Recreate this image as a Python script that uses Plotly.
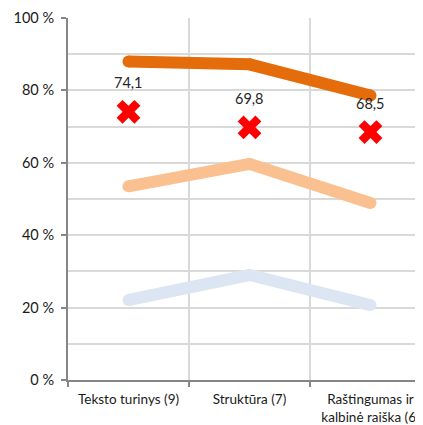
import plotly.graph_objects as go

categories = ["Teksto turinys (9)", "Struktūra (7)", "Raštingumas ir<br>kalbinė raiška (6)"]
high = [88.0, 87.2, 78.6]
mid = [53.5, 59.7, 48.9]
low = [22.1, 29.0, 20.7]
avg = [74.1, 69.8, 68.5]
avg_labels = ["74,1", "69,8", "68,5"]
y_ticks = [0, 20, 40, 60, 80, 100]
y_tick_labels = ["0 %", "20 %", "40 %", "60 %", "80 %", "100 %"]

FONT = "Lato, 'Open Sans', sans-serif"

fig = go.Figure()
for vals, col in [(low, "#DCE6F2"), (mid, "#FAC090"), (high, "#E46C0A")]:
    fig.add_trace(go.Scatter(x=categories, y=vals, mode="lines+markers",
                             line=dict(color=col, width=12),
                             marker=dict(symbol="circle", size=12, color=col,
                                         line=dict(width=0)),
                             showlegend=False, hoverinfo="skip"))
fig.add_trace(go.Scatter(x=categories, y=avg, mode="markers",
                         marker=dict(symbol="x", size=21, color="#FF0000",
                                     line=dict(width=0)),
                         showlegend=False, hoverinfo="skip"))
for c, v, t in zip(categories, avg, avg_labels):
    fig.add_annotation(x=c, y=v, text=t, showarrow=False, yshift=29,
                       font=dict(size=14.5, color="#262626", family=FONT))

fig.update_layout(
    width=415, height=417,
    margin=dict(l=60, r=0, t=10, b=45),
    paper_bgcolor="white", plot_bgcolor="white",
    font=dict(family=FONT, size=14, color="#1a1a1a"),
    showlegend=False,
)
fig.update_xaxes(
    type="category", range=[-0.5, 2.434], tickson="boundaries",
    showgrid=True, gridcolor="#D9D9D9", gridwidth=1.5,
    showline=True, linecolor="#868686", linewidth=2,
    ticks="outside", ticklen=5, tickcolor="#868686", tickwidth=2,
    automargin=False, tickfont=dict(size=13.5), ticklabelstandoff=6,
)
fig.update_yaxes(
    range=[0, 100], tickvals=y_ticks, ticktext=y_tick_labels,
    showgrid=True, gridcolor="#D9D9D9", gridwidth=1.5,
    minor=dict(dtick=10, showgrid=True, gridcolor="#D9D9D9", gridwidth=1.5),
    showline=True, linecolor="#868686", linewidth=2,
    ticks="outside", ticklen=5, tickcolor="#868686", tickwidth=2,
    zeroline=False, automargin=False, tickfont=dict(size=14.5),
    ticklabelstandoff=4,
)

fig.write_html("out.html")
